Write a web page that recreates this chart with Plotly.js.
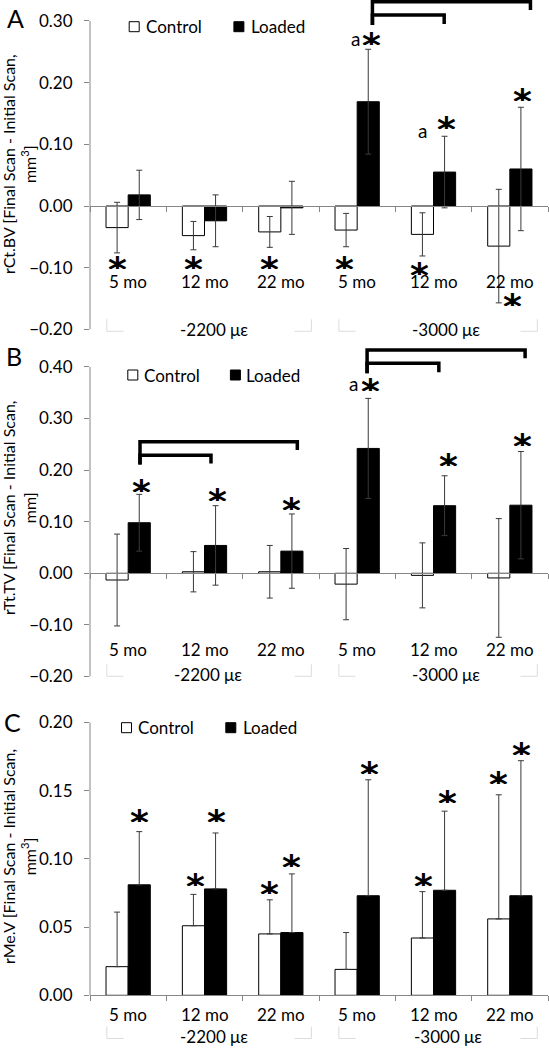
<!DOCTYPE html>
<html><head><meta charset="utf-8">
<script src="https://cdn.plot.ly/plotly-3.0.1.min.js"></script>
<style>html,body{margin:0;padding:0;background:#fff}#chart{width:549px;height:1048px}</style>
</head><body><div id="chart"></div>
<script>
// ---------- data ----------
const ageLabels = ['5 mo', '12 mo', '22 mo', '5 mo', '12 mo', '22 mo'];
const strainLabels = ['-2200 με', '-3000 με'];
const seriesNames = ['Control', 'Loaded'];
const panelLetters = ['A', 'B', 'C'];
const yTitles = [
  'rCt.BV [Final Scan - Initial Scan,<br>mm<sup>3</sup>]',
  'rTt.TV [Final Scan - Initial Scan,<br>mm]',
  'rMe.V [Final Scan - Initial Scan,<br>mm<sup>3</sup>]'
];

// Panel A: rCt.BV
const ctbvControl    = [-0.035, -0.048, -0.042, -0.039, -0.046, -0.065];
const ctbvControlErr = [0.041, 0.023, 0.025, 0.027, 0.035, 0.092];
const ctbvLoaded     = [0.018, -0.024, -0.003, 0.169, 0.055, 0.060];
const ctbvLoadedErr  = [0.040, 0.042, 0.043, 0.085, 0.058, 0.100];
const yTicksA = [-0.2, -0.1, 0, 0.1, 0.2, 0.3];

// Panel B: rTt.TV
const ttvControl    = [-0.013, 0.003, 0.003, -0.021, -0.004, -0.009];
const ttvControlErr = [0.089, 0.039, 0.051, 0.069, 0.063, 0.115];
const ttvLoaded     = [0.098, 0.054, 0.043, 0.242, 0.131, 0.132];
const ttvLoadedErr  = [0.055, 0.077, 0.072, 0.097, 0.058, 0.104];
const yTicksB = [-0.2, -0.1, 0, 0.1, 0.2, 0.3, 0.4];

// Panel C: rMe.V
const mevControl    = [0.021, 0.051, 0.045, 0.019, 0.042, 0.056];
const mevControlErr = [0.040, 0.023, 0.025, 0.027, 0.034, 0.091];
const mevLoaded     = [0.081, 0.078, 0.046, 0.073, 0.077, 0.073];
const mevLoadedErr  = [0.039, 0.041, 0.043, 0.085, 0.058, 0.099];
const yTicksC = [0, 0.05, 0.1, 0.15, 0.2];

// significance annotations: [x position (category units), y value]
const starsA = [[-0.145,-0.091],[0.855,-0.091],[1.853,-0.091],[2.839,-0.091],[3.817,-0.101],[5.038,-0.151],[3.19,0.272],[4.169,0.135],[5.165,0.180]];
const lettersA = [[2.972,0.272],[3.857,0.122]];
const starsB = [[0.179,0.171],[1.165,0.152],[2.142,0.136],[3.17,0.365],[4.193,0.220],[5.165,0.260]];
const lettersB = [[2.953,0.368]];
const starsC = [[0.147,0.132],[1.156,0.132],[0.876,0.085],[1.853,0.079],[2.142,0.0985],[3.16,0.167],[3.872,0.085],[4.178,0.146],[4.858,0.160],[5.156,0.181]];
const lettersC = [];
// comparison brackets: [from, to, yHigh(bar), yLeftEnd, yRightEnd]
const bracketsA = [[3.2,5.27,0.331,0.2934,0.3177],[3.2,4.14,0.3096,0.2934,0.295]];
const bracketsB = [[3.13,5.2,0.4328,0.3876,0.4167],[3.13,4.07,0.407,0.3876,0.3895],[0.155,2.216,0.255,0.211,0.239],[0.155,1.085,0.229,0.211,0.213]];
const bracketsC = [];

// ---------- layout constants ----------
const W = 549, H = 1048, ML = 90, MR = 1;
const plotW = W - ML - MR;
const FONT = 'Lato, "Open Sans", sans-serif';
const STARFONT = '"DejaVu Sans", sans-serif';
const FS = 17;
const AX = '#868686', EB = '#3a3a3a';
const barW = 0.29;
const idx = ageLabels.map((_, i) => i);
const bounds = [];
for (let i = 0; i <= ageLabels.length; i++) bounds.push(i - 0.5);

const panels = [
  {control: ctbvControl, controlErr: ctbvControlErr, loaded: ctbvLoaded, loadedErr: ctbvLoadedErr, sym: true,
   ticks: yTicksA, zeroPx: 206, ppu: 617, topPx: 0, botPx: 339, axisLo: -0.2, axisHi: 0.3,
   agePx: 281.7, groupPx: 329.3, groupX: [1.124, 4.169], bracketSpan: [[-0.28, 2.40], [2.76, 5.36]],
   legendPx: {y: 26.7, c: 129.2, ct: 144.6, l: 233.9, lt: 249.6}, letterPx: [15, 18], titlePx: 164,
   stars: starsA, letters: lettersA, brackets: bracketsA},
  {control: ttvControl, controlErr: ttvControlErr, loaded: ttvLoaded, loadedErr: ttvLoadedErr, sym: true,
   ticks: yTicksB, zeroPx: 573.3, ppu: 516, topPx: 346, botPx: 684, axisLo: -0.2, axisHi: 0.4,
   agePx: 649.3, groupPx: 674.3, groupX: [1.05, 4.16], bracketSpan: [[-0.28, 2.40], [2.76, 5.36]],
   legendPx: {y: 375, c: 127.8, ct: 142.9, l: 230.4, lt: 245.1}, letterPx: [14, 355.7], titlePx: 508,
   stars: starsB, letters: lettersB, brackets: bracketsB},
  {control: mevControl, controlErr: mevControlErr, loaded: mevLoaded, loadedErr: mevLoadedErr, sym: false,
   ticks: yTicksC, zeroPx: 995.3, ppu: 1364, topPx: 714, botPx: 1048, axisLo: 0, axisHi: 0.2,
   agePx: 1014, groupPx: 1036.5, groupX: [1.13, 4.19], bracketSpan: [[-0.28, 2.40], [2.76, 5.36]],
   legendPx: {y: 727.7, c: 121.5, ct: 136.6, l: 225.8, lt: 241.6}, letterPx: [12.3, 721.7], titlePx: 857,
   stars: starsC, letters: lettersC, brackets: bracketsC}
];

const px2x = p => (p - ML) / plotW;   // paper x
const px2y = p => 1 - p / H;          // paper y

const traces = [];
const layout = {
  width: W, height: H,
  margin: {l: ML, r: MR, t: 0, b: 0, pad: 0},
  paper_bgcolor: '#ffffff', plot_bgcolor: 'rgba(0,0,0,0)',
  showlegend: false,
  font: {family: FONT, size: FS, color: '#000'},
  shapes: [], annotations: []
};

panels.forEach((P, k) => {
  const sfx = k ? String(k + 1) : '';
  const xr = 'x' + sfx, yr = 'y' + sfx;
  const v = p => (P.zeroPx - p) / P.ppu;   // pixel -> value for this panel
  const lo = v(P.botPx), hi = v(P.topPx);

  layout['xaxis' + sfx] = {
    domain: [0, 1], range: [-0.5, ageLabels.length - 0.5], anchor: 'free', position: px2y(P.zeroPx),
    showline: true, linecolor: AX, linewidth: 1, ticks: 'outside', ticklen: 5, tickcolor: AX, tickwidth: 1,
    tickvals: bounds, showticklabels: false, showgrid: false, zeroline: false, fixedrange: true
  };
  layout['yaxis' + sfx] = {
    domain: [px2y(P.botPx), px2y(P.topPx)], range: [lo, hi], anchor: xr,
    showline: false, ticks: 'outside', ticklen: 5, tickcolor: AX, tickwidth: 1,
    tickvals: P.ticks, tickformat: '.2f', ticklabelstandoff: 8,
    tickfont: {family: FONT, size: FS, color: '#000'},
    showgrid: false, zeroline: false, fixedrange: true
  };

  const zeros = P.control.map(() => 0);
  const err = arr => P.sym
    ? {type: 'data', array: arr, visible: true, color: EB, thickness: 1, width: 3}
    : {type: 'data', symmetric: false, array: arr, arrayminus: zeros, visible: true, color: EB, thickness: 1, width: 3};
  traces.push({
    type: 'bar', x: idx, y: P.control, xaxis: xr, yaxis: yr, name: seriesNames[0],
    width: barW, offset: -barW, marker: {color: '#ffffff', line: {color: '#000', width: 1}},
    error_y: err(P.controlErr), hoverinfo: 'skip'
  });
  traces.push({
    type: 'bar', x: idx, y: P.loaded, xaxis: xr, yaxis: yr, name: seriesNames[1],
    width: barW, offset: 0, marker: {color: '#000000', line: {color: '#000', width: 1}},
    error_y: err(P.loadedErr), hoverinfo: 'skip'
  });

  // y axis line
  layout.shapes.push({type: 'line', xref: 'paper', yref: yr, x0: 0, x1: 0, y0: P.axisLo, y1: P.axisHi,
                      line: {color: AX, width: 1}, layer: 'above'});

  // age labels
  ageLabels.forEach((t, i) => layout.annotations.push({
    xref: xr, yref: yr, x: i, y: v(P.agePx), text: t, showarrow: false, borderpad: 0,
    xanchor: 'center', yanchor: 'middle', font: {family: FONT, size: FS, color: '#000'}
  }));
  // strain group labels + faint brackets
  strainLabels.forEach((t, j) => {
    layout.annotations.push({
      xref: xr, yref: yr, x: P.groupX[j], y: v(P.groupPx), text: t, showarrow: false, borderpad: 0,
      xanchor: 'center', yanchor: 'middle', font: {family: FONT, size: FS, color: '#000'}
    });
    const [a, b] = P.bracketSpan[j];
    const yb = v(P.groupPx + 2), yt = v(P.groupPx - 10), d = 0.22;
    layout.shapes.push({type: 'path', xref: xr, yref: yr, layer: 'above',
      path: `M${a},${yt} L${a},${yb} L${a + d},${yb} M${b - d},${yb} L${b},${yb} L${b},${yt}`,
      line: {color: '#dcdcdc', width: 1}});
  });

  // significance stars (box trimmed around the glyph)
  P.stars.forEach(([x, y]) => layout.annotations.push({
    xref: xr, yref: yr, x: x, y: y, text: '*', showarrow: false, xanchor: 'center', yanchor: 'middle',
    height: 20, valign: 'top', borderpad: 0, yshift: 3.5,
    font: {family: STARFONT, size: 36, color: '#000', weight: 'bold'}
  }));
  P.letters.forEach(([x, y]) => layout.annotations.push({
    xref: xr, yref: yr, x: x, y: y, text: 'a', showarrow: false, xanchor: 'center', yanchor: 'middle',
    borderpad: 0, font: {family: FONT, size: 19, color: '#000'}
  }));
  // comparison brackets
  P.brackets.forEach(([a, b, yh, yl, yrr]) => layout.shapes.push({
    type: 'path', xref: xr, yref: yr, layer: 'above',
    path: `M${a},${yl} L${a},${yh} L${b},${yh} L${b},${yrr}`,
    line: {color: '#000', width: 3.5}
  }));

  // legend
  const L = P.legendPx;
  layout.shapes.push({type: 'rect', xref: 'paper', yref: 'paper', x0: px2x(L.c), x1: px2x(L.c + 10),
    y0: px2y(L.y + 5), y1: px2y(L.y - 5), line: {color: '#000', width: 1}, fillcolor: '#fff'});
  layout.shapes.push({type: 'rect', xref: 'paper', yref: 'paper', x0: px2x(L.l), x1: px2x(L.l + 10),
    y0: px2y(L.y + 5), y1: px2y(L.y - 5), line: {color: '#000', width: 1}, fillcolor: '#000'});
  layout.annotations.push({xref: 'paper', yref: 'paper', x: px2x(L.ct), y: px2y(L.y), text: seriesNames[0],
    showarrow: false, xanchor: 'left', yanchor: 'middle', borderpad: 0, font: {family: FONT, size: FS, color: '#000'}});
  layout.annotations.push({xref: 'paper', yref: 'paper', x: px2x(L.lt), y: px2y(L.y), text: seriesNames[1],
    showarrow: false, xanchor: 'left', yanchor: 'middle', borderpad: 0, font: {family: FONT, size: FS, color: '#000'}});

  // panel letter
  layout.annotations.push({xref: 'paper', yref: 'paper', x: px2x(P.letterPx[0]), y: px2y(P.letterPx[1]),
    text: panelLetters[k], showarrow: false, xanchor: 'center', yanchor: 'middle', borderpad: 0,
    font: {family: FONT, size: 25, color: '#000'}});
  // y title
  layout.annotations.push({xref: 'paper', yref: 'paper', x: px2x(19), y: px2y(P.titlePx),
    text: yTitles[k], showarrow: false, xanchor: 'center', yanchor: 'middle', textangle: -90, borderpad: 0,
    font: {family: FONT, size: 16, color: '#000'}});
});

Plotly.newPlot('chart', traces, layout, {displayModeBar: false, staticPlot: true});
</script>
</body></html>
